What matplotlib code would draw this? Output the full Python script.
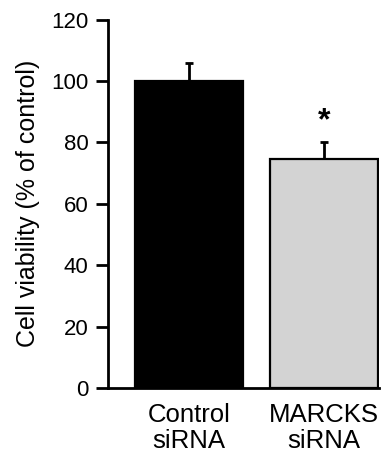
import matplotlib
matplotlib.use("Agg")
import matplotlib.pyplot as plt

plt.rcParams["font.family"] = ["Liberation Sans", "DejaVu Sans"]

# data
groups = ["Control\nsiRNA", "MARCKS\nsiRNA"]
viability = [100, 74.5]
sem = [6, 5.5]
bar_colors = ["black", "#d3d3d3"]
yticks = [0, 20, 40, 60, 80, 100, 120]

fig = plt.figure(figsize=(3.84, 4.54), dpi=100)
ax = fig.add_axes([0.281, 0.145, 0.706, 0.812])

x = [0, 1]
ax.bar(x, viability, width=0.80, color=bar_colors, edgecolor="black",
       linewidth=1.6, zorder=2)
ax.errorbar(x, viability, yerr=[[0, 0], sem], fmt="none", ecolor="black",
            elinewidth=2, capsize=3, capthick=2, zorder=1)

# significance marker
ax.text(1, viability[1] + sem[1] + 7, "*", ha="center", va="center",
        fontsize=23, fontweight="bold")

ax.set_xlim(-0.602, 1.41)
ax.set_ylim(0, 120)
ax.set_yticks(yticks)
ax.set_xticks(x)
ax.set_xticklabels(groups, fontsize=18.5, linespacing=1.08)
ax.tick_params(axis="y", labelsize=16, length=9, width=2, direction="out", pad=5)
ax.tick_params(axis="x", length=0, pad=11)
ax.set_ylabel("Cell viability (% of control)", fontsize=18, labelpad=8)

for s in ["top", "right"]:
    ax.spines[s].set_visible(False)
for s in ["left", "bottom"]:
    ax.spines[s].set_linewidth(2)

fig.savefig("out.png", dpi=100)
